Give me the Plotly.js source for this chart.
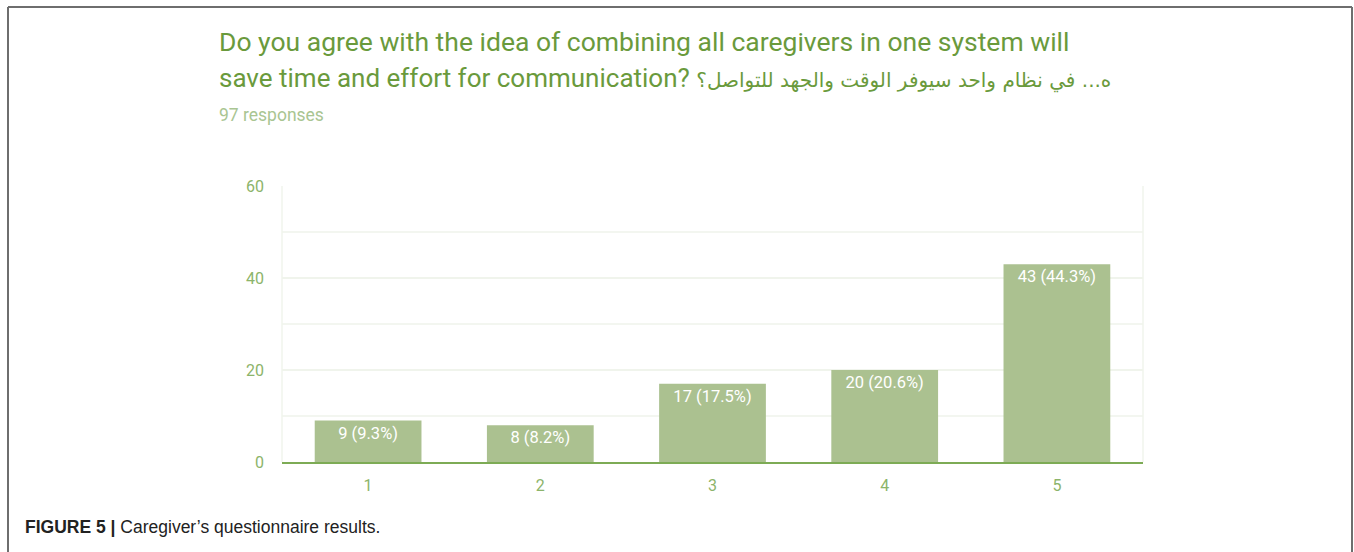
<!DOCTYPE html>
<html>
<head>
<meta charset="utf-8">
<script src="https://cdn.plot.ly/plotly-3.0.1.min.js"></script>
<style>
html,body{margin:0;padding:0;background:#fff;}
#chart{width:1354px;height:552px;}
</style>
</head>
<body>
<div id="chart"></div>
<script>
// Data
const categories = ['1', '2', '3', '4', '5'];
const counts = [9, 8, 17, 20, 43];
const percents = ['9.3%', '8.2%', '17.5%', '20.6%', '44.3%'];
const yTicks = [0, 20, 40, 60];

const titleLine1 = 'Do you agree with the idea of combining all caregivers in one system will';
const titleLine2En = 'save time and effort for communication? ';
const titleLine2Ar = 'ه... في نظام واحد سيوفر الوقت والجهد للتواصل؟';
const subtitle = '97 responses';
const captionBold = 'FIGURE 5 |';
const captionText = ' Caregiver’s questionnaire results.';

const labels = counts.map((c, i) => c + ' (' + percents[i] + ')');

// plot area geometry in pixels
const W = 1354, H = 552;
const L = 282, R = 1143, T = 186, B = 462;
const pw = R - L, ph = B - T;
const px = x => (x - L) / pw;
const py = y => (B - y) / ph;

const trace = {
  type: 'bar',
  x: categories,
  y: counts,
  text: labels,
  textposition: 'inside',
  insidetextanchor: 'end',
  textangle: 0,
  textfont: {family: 'Roboto, Arial, sans-serif', size: 16.5, color: '#ffffff'},
  constraintext: 'none',
  marker: {color: '#abc190', line: {width: 0}},
  width: 0.62,
  hoverinfo: 'none'
};

const layout = {
  width: W, height: H,
  margin: {l: L, r: W - R, t: T, b: H - B, pad: 0},
  paper_bgcolor: '#ffffff',
  plot_bgcolor: '#ffffff',
  showlegend: false,
  font: {family: 'Roboto, Arial, sans-serif'},
  xaxis: {
    type: 'category',
    showgrid: false,
    zeroline: false,
    showline: true,
    linecolor: '#7dab55',
    linewidth: 2,
    ticks: '',
    tickfont: {family: 'Roboto, Arial, sans-serif', size: 16, color: '#8cb46a'},
    ticklabelstandoff: 8
  },
  yaxis: {
    range: [0, 60],
    tickvals: yTicks,
    ticktext: yTicks.map(String),
    showgrid: true,
    gridcolor: '#f0f4ec',
    gridwidth: 1.2,
    minor: {dtick: 10, showgrid: true, gridcolor: '#f3f6f0', gridwidth: 1.2},
    zeroline: false,
    showline: false,
    ticks: '',
    tickfont: {family: 'Roboto, Arial, sans-serif', size: 16, color: '#8cb46a'},
    ticklabelstandoff: 17
  },
  shapes: [
    // light vertical borders of plot area
    {type: 'line', xref: 'paper', yref: 'paper', x0: 0, x1: 0, y0: 0, y1: 1, line: {color: '#f0f4ec', width: 1.5}},
    {type: 'line', xref: 'paper', yref: 'paper', x0: 1, x1: 1, y0: 0, y1: 1, line: {color: '#f0f4ec', width: 1.5}},
    // figure frame (left, top, right)
    {type: 'line', xref: 'paper', yref: 'paper', x0: px(8), x1: px(8), y0: py(7), y1: py(560), line: {color: '#6e6e6e', width: 2}},
    {type: 'line', xref: 'paper', yref: 'paper', x0: px(8), x1: px(1352), y0: py(7), y1: py(7), line: {color: '#6e6e6e', width: 2}},
    {type: 'line', xref: 'paper', yref: 'paper', x0: px(1352), x1: px(1352), y0: py(7), y1: py(560), line: {color: '#6e6e6e', width: 2}}
  ],
  annotations: [
    {xref: 'paper', yref: 'paper', x: px(217), y: py(42), xanchor: 'left', yanchor: 'middle', showarrow: false,
     text: titleLine1, font: {family: 'Roboto, sans-serif', size: 26.5, color: '#6a9a3c'}},
    {xref: 'paper', yref: 'paper', x: px(217), y: py(78), xanchor: 'left', yanchor: 'middle', showarrow: false,
     text: titleLine2En + '<span style="font-family:\'DejaVu Sans\';font-size:20px">' + titleLine2Ar + '</span>',
     font: {family: 'Roboto, "DejaVu Sans", sans-serif', size: 26, color: '#6a9a3c'}},
    {xref: 'paper', yref: 'paper', x: px(217), y: py(115), xanchor: 'left', yanchor: 'middle', showarrow: false,
     text: subtitle, font: {family: 'Roboto, sans-serif', size: 17.5, color: '#a9c592'}},
    {xref: 'paper', yref: 'paper', x: px(23), y: py(527), xanchor: 'left', yanchor: 'middle', showarrow: false,
     text: '<b>' + captionBold + '</b>' + captionText, font: {family: '"Liberation Sans", Arial, sans-serif', size: 17.5, color: '#222222'}}
  ]
};

Plotly.newPlot('chart', [trace], layout, {displayModeBar: false, staticPlot: true});
</script>
</body>
</html>
